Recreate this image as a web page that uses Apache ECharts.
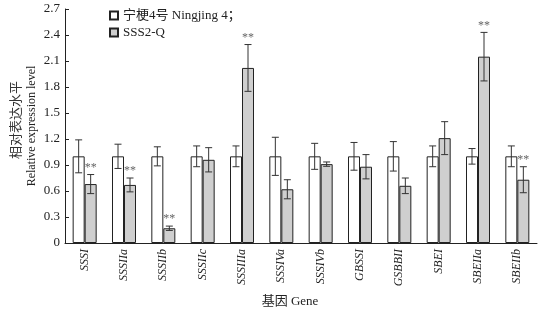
<!DOCTYPE html>
<html>
<head>
<meta charset="utf-8">
<script src="https://cdn.jsdelivr.net/npm/echarts@6/dist/echarts.min.js"></script>
<style>
  html, body { margin: 0; padding: 0; background: #fff; }
  #chart { width: 542px; height: 316px; }
</style>
</head>
<body>
<div id="chart"></div>
<script>
// 基因名
const genes = ['SSSI', 'SSSIIa', 'SSSIIb', 'SSSIIc', 'SSSIIIa', 'SSSIVa', 'SSSIVb', 'GBSSI', 'GSBBII', 'SBEI', 'SBEIIa', 'SBEIIb']
// 宁梗4号 (对照)
const ctrlVals = [1, 1, 1, 1, 1, 1, 1, 1, 1, 1, 1, 1]
const ctrlErr = [0.19, 0.14, 0.11, 0.12, 0.12, 0.22, 0.15, 0.16, 0.17, 0.12, 0.09, 0.12]
// SSS2-Q
const mutVals = [0.68, 0.67, 0.17, 0.96, 2.02, 0.62, 0.91, 0.88, 0.66, 1.21, 2.15, 0.73]
const mutErr = [0.11, 0.08, 0.025, 0.14, 0.27, 0.11, 0.025, 0.14, 0.09, 0.19, 0.28, 0.15]
// 显著性标记
const sigMarks = ['**', '**', '**', '', '**', '', '', '', '', '', '**', '**']
const yTicks = [0, 0.3, 0.6, 0.9, 1.2, 1.5, 1.8, 2.1, 2.4, 2.7]

const serif = 'Liberation Serif, "Times New Roman", "Noto Sans CJK SC", serif'
const barW = 12

function errSeries(vals, errs, offset, marks) {
  return {
    type: 'custom',
    z: 5,
    silent: true,
    data: vals.map((v, i) => [i, v, errs[i]]),
    renderItem(params, api) {
      const i = api.value(0)
      const v = api.value(1)
      const e = api.value(2)
      const top = api.coord([i, v + e])
      const bot = api.coord([i, v - e])
      const x = top[0] + offset
      const cap = 3.5
      const st = { stroke: '#333', lineWidth: 1 }
      const children = [
        { type: 'line', shape: { x1: x, y1: top[1], x2: x, y2: bot[1] }, style: st },
        { type: 'line', shape: { x1: x - cap, y1: top[1], x2: x + cap, y2: top[1] }, style: st },
        { type: 'line', shape: { x1: x - cap, y1: bot[1], x2: x + cap, y2: bot[1] }, style: st }
      ]
      const m = marks ? marks[i] : ''
      if (m) {
        children.push({
          type: 'text',
          style: {
            text: m, x: x, y: top[1] - 1, align: 'center', verticalAlign: 'bottom',
            fill: '#666', font: '12px ' + serif
          }
        })
      }
      return { type: 'group', children }
    }
  }
}

const myChart = echarts.init(document.getElementById('chart'))
myChart.setOption({
  animation: false,
  textStyle: { fontFamily: serif },
  grid: { left: 65, right: 5, top: 9, bottom: 73, containLabel: false },
  legend: {
    orient: 'vertical',
    left: 104,
    top: 4,
    itemWidth: 8,
    itemHeight: 8,
    itemGap: 4,
    icon: 'rect',
    textStyle: { fontSize: 13, color: '#222', fontFamily: serif },
    data: ['宁梗4号 Ningjing 4；', 'SSS2-Q']
  },
  xAxis: {
    type: 'category',
    data: genes,
    axisLine: { lineStyle: { color: '#222', width: 1 } },
    axisTick: { inside: true, length: 4, lineStyle: { color: '#222' } },
    axisLabel: {
      rotate: 90, margin: 6, fontSize: 12, fontStyle: 'italic', color: '#222', fontFamily: serif
    }
  },
  yAxis: {
    type: 'value',
    min: 0,
    max: 2.7,
    interval: 0.3,
    splitLine: { show: false },
    axisLine: { show: true, lineStyle: { color: '#222', width: 1 } },
    axisTick: { show: true, inside: true, length: 4, lineStyle: { color: '#222' } },
    axisLabel: {
      margin: 5, fontSize: 13, color: '#222', fontFamily: serif,
      formatter: v => {
        const t = yTicks.find(y => Math.abs(y - v) < 1e-6)
        return t === 0 ? '0' : t.toFixed(1)
      }
    }
  },
  graphic: [
    {
      type: 'text', rotation: Math.PI / 2,
      x: 15, y: 120,
      style: { text: '相对表达水平', font: '13px "Noto Sans CJK SC", sans-serif', fill: '#333', align: 'center', verticalAlign: 'middle' }
    },
    {
      type: 'text', rotation: Math.PI / 2,
      x: 32, y: 126,
      style: { text: 'Relative expression level', font: '12px ' + serif, fill: '#222', align: 'center', verticalAlign: 'middle' }
    },
    {
      type: 'text',
      x: 290, y: 302,
      style: { text: '基因 Gene', font: '13px ' + serif, fill: '#222', align: 'center', verticalAlign: 'middle' }
    }
  ],
  series: [
    {
      name: '宁梗4号 Ningjing 4；',
      type: 'bar',
      barWidth: barW,
      barGap: '0%',
      data: ctrlVals,
      itemStyle: { color: '#fff', borderColor: '#222', borderWidth: 1 }
    },
    {
      name: 'SSS2-Q',
      type: 'bar',
      barWidth: barW,
      data: mutVals,
      itemStyle: { color: '#cfcfcf', borderColor: '#222', borderWidth: 1 }
    },
    errSeries(ctrlVals, ctrlErr, -barW / 2, null),
    errSeries(mutVals, mutErr, barW / 2, sigMarks)
  ]
})
</script>
</body>
</html>
